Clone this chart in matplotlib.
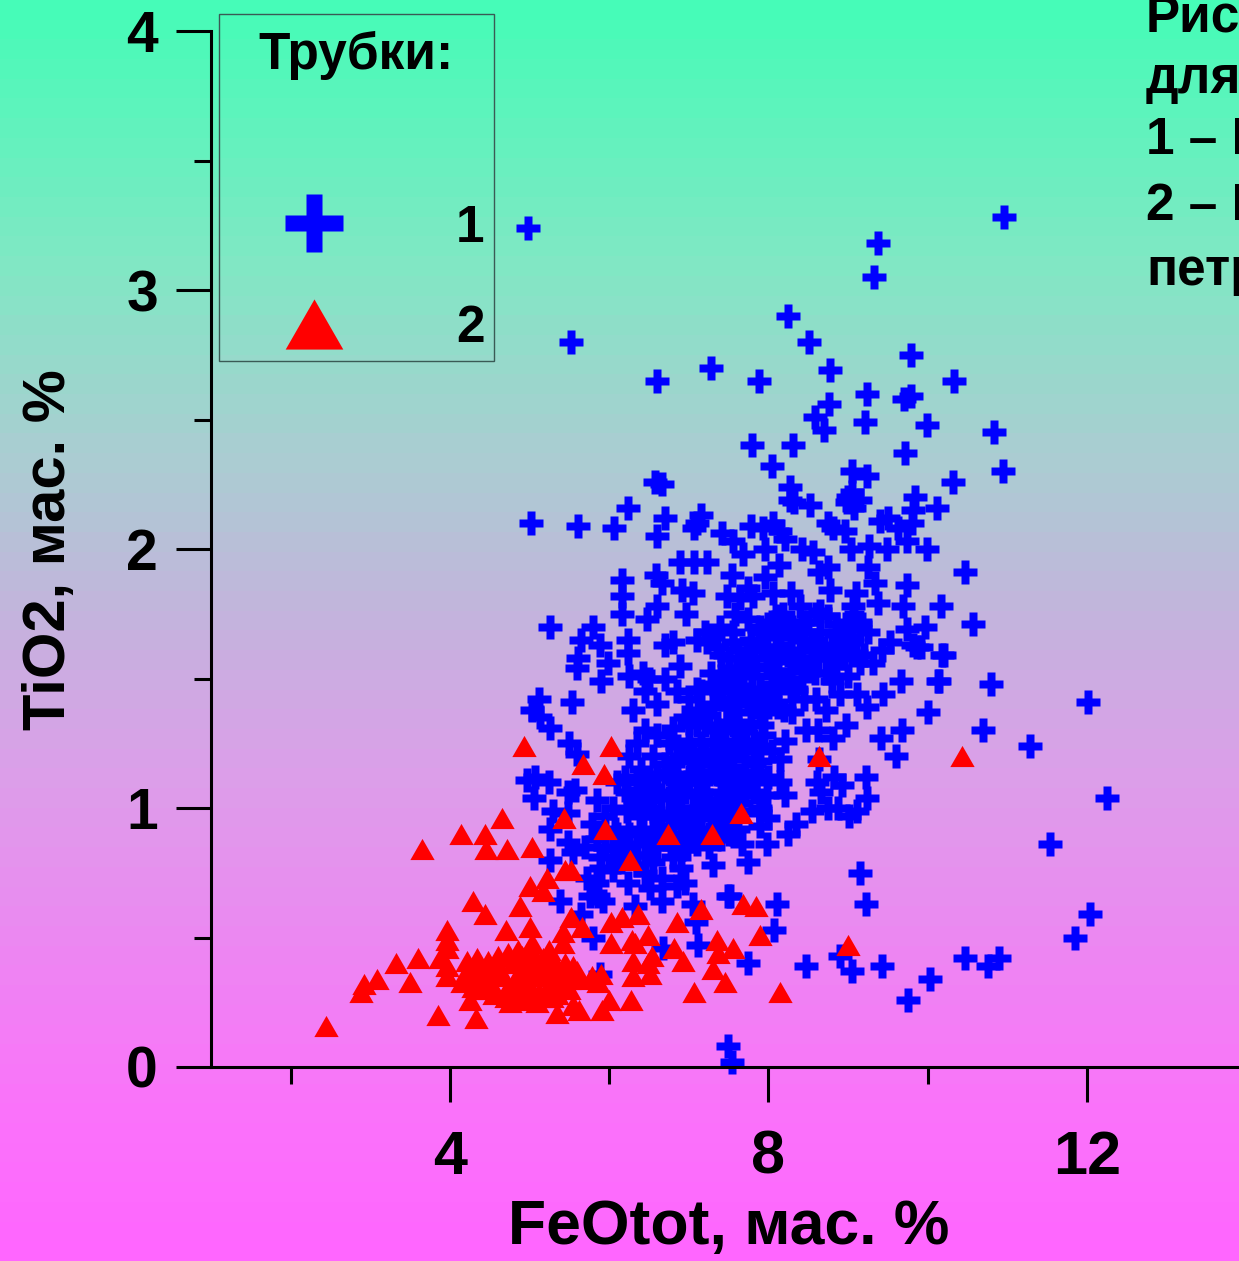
import numpy as np
import matplotlib
matplotlib.use('Agg')
import matplotlib.pyplot as plt
from matplotlib.colors import LinearSegmentedColormap
from matplotlib.lines import Line2D
from matplotlib.patches import Rectangle
from matplotlib.ticker import FixedLocator

plt.rcParams['font.family'] = ['Liberation Sans', 'DejaVu Sans']
plt.rcParams['font.weight'] = 'bold'

# Data
pipe1_x = [
    4.98, 5.52, 6.60, 7.28, 7.88, 8.25, 8.51, 8.77, 9.38, 9.33, 10.96, 9.79, 10.33, 9.24, 9.79, 9.70,
    8.76, 8.58, 8.70, 9.21, 9.99, 10.83, 7.79, 8.31, 8.04, 9.72, 9.05, 9.24, 10.95, 10.32, 6.58, 6.66,
    8.27, 8.27, 9.84, 9.05, 8.99, 8.52, 6.24, 10.12, 5.02, 5.61, 6.06,
    6.70, 6.60, 7.15, 7.10, 7.07, 7.42, 7.56, 7.68, 7.78, 7.93, 8.06, 8.15, 8.21, 7.96, 8.32,
    9.00, 9.15, 9.08, 9.82, 9.50, 9.40, 8.75, 8.81, 8.96, 9.80, 9.63, 9.74, 9.49, 9.26, 9.04, 9.99,
    8.42, 8.56, 8.75, 8.64, 9.25, 9.34, 9.74, 10.17, 9.69,
    6.89, 7.07, 7.23, 7.54, 6.59, 6.66, 6.16, 6.16, 6.16, 6.60, 6.47, 6.91, 7.05, 6.96, 7.48, 7.64,
    7.81, 7.74, 8.13, 7.96, 8.06, 8.28, 8.77, 9.10, 9.38, 9.06, 8.65, 8.40, 8.18, 7.58,
    5.26, 5.80, 5.65, 5.88, 6.24, 6.24, 5.61, 5.60, 5.98, 5.90, 6.25, 6.42, 6.89, 6.70, 6.80, 7.10,
    7.23, 7.39, 7.56, 7.73, 7.98,
    5.12, 5.03, 5.13, 5.26, 5.53, 5.49, 5.60, 4.97, 5.07, 5.24, 5.06, 5.29, 5.48, 5.78,
    9.92, 9.82, 9.97, 9.74, 9.53, 9.43, 9.31, 9.15, 8.94, 9.87, 10.18, 9.67, 10.14, 9.44, 9.24, 9.11,
    8.90, 10.00, 9.68, 9.41, 9.60, 8.97, 8.81, 8.62, 8.47, 8.64, 9.23, 8.82, 8.92, 8.61, 8.66, 9.24,
    8.55, 8.75, 8.87, 9.01, 9.11, 8.35, 8.25, 8.15, 8.21, 7.82, 8.15, 8.21, 7.89, 7.62,
    5.57, 5.85, 5.48, 5.26, 5.48, 5.70, 6.07, 6.22, 6.22, 6.58, 6.86, 6.85, 6.39, 6.51, 6.98, 6.80,
    7.30, 7.74, 7.98, 7.67, 7.98, 7.89, 7.52,
    6.24, 6.66, 6.51, 6.85, 6.95, 6.66, 6.32, 5.86, 5.76, 5.92, 5.38, 5.65, 7.05, 7.49, 7.52, 8.11,
    8.07, 7.09, 7.12, 6.68, 5.80, 7.74, 5.85, 5.72, 6.05, 5.26, 5.88, 5.55, 6.45, 5.88,
    11.29, 12.01, 12.25, 11.54, 10.80, 10.70, 10.13, 10.20, 10.57, 10.47,
    9.15, 9.23, 12.04, 11.85, 10.89, 10.76, 10.47, 10.03, 9.75, 9.43, 9.05, 8.90, 8.47, 7.49, 7.54,
    7.20, 7.35, 7.50, 7.60, 7.45, 7.70, 7.85, 7.95, 8.05, 8.15, 8.05, 8.20, 8.30, 8.40, 8.50, 8.55,
    8.65, 8.75, 8.80, 8.90, 9.00, 9.05, 9.15, 9.25, 8.35, 8.50, 8.62, 8.72, 8.85, 8.95, 9.10, 8.20,
    8.35, 8.05, 7.90, 8.45, 8.60, 8.72, 8.20, 8.05, 7.90, 7.75, 7.65, 7.55, 7.42, 7.30, 7.15, 7.00,
    6.85, 6.95, 7.10, 7.25, 7.40, 7.55, 7.70, 7.82, 7.95, 8.05, 7.65, 7.50, 7.35, 7.20, 7.05, 6.90,
    6.75, 6.60, 6.45, 6.55, 6.40, 6.70, 6.85, 7.00, 7.15, 7.30, 7.45, 7.60, 7.75, 7.35, 7.50, 7.42,
    7.55, 7.30, 7.65, 7.20, 7.05, 6.95, 7.10, 7.25, 7.40, 7.55, 6.80, 6.65, 6.50, 6.35, 6.25, 6.15,
    6.05, 5.95, 5.85, 6.30, 6.45, 6.60, 6.72, 6.85, 6.55, 6.20, 6.10, 6.35, 6.50, 6.05, 5.95, 7.90,
    8.00, 7.85, 8.00, 7.90, 6.60, 6.45, 6.30, 6.50, 6.70, 6.35, 6.25,
]
pipe1_y = [
    3.24, 2.80, 2.65, 2.70, 2.65, 2.90, 2.80, 2.69, 3.18, 3.05, 3.28, 2.75, 2.65, 2.60, 2.59, 2.58,
    2.56, 2.51, 2.46, 2.49, 2.48, 2.45, 2.40, 2.40, 2.32, 2.37, 2.30, 2.28, 2.30, 2.26, 2.26, 2.25,
    2.24, 2.19, 2.20, 2.22, 2.18, 2.17, 2.16, 2.16, 2.10, 2.09, 2.08,
    2.12, 2.05, 2.13, 2.10, 2.08, 2.06, 2.03, 1.98, 2.09, 2.08, 2.10, 2.07, 2.04, 2.00, 2.18,
    2.20, 2.19, 2.16, 2.15, 2.12, 2.11, 2.10, 2.08, 2.07, 2.10, 2.08, 2.03, 2.00, 2.01, 2.00, 2.00,
    2.00, 1.99, 1.93, 1.91, 1.93, 1.87, 1.86, 1.78, 1.78,
    1.95, 1.95, 1.95, 1.90, 1.90, 1.87, 1.88, 1.82, 1.75, 1.78, 1.73, 1.84, 1.83, 1.75, 1.82, 1.81,
    1.82, 1.85, 1.94, 1.89, 1.83, 1.83, 1.84, 1.83, 1.79, 1.78, 1.76, 1.78, 1.75, 1.75,
    1.70, 1.70, 1.65, 1.63, 1.65, 1.60, 1.58, 1.54, 1.56, 1.49, 1.51, 1.52, 1.55, 1.63, 1.64, 1.65,
    1.64, 1.70, 1.64, 1.61, 1.62,
    1.42, 1.38, 1.35, 1.31, 1.41, 1.25, 1.21, 1.11, 1.12, 1.10, 1.04, 0.99, 1.06, 0.94,
    1.62, 1.63, 1.70, 1.69, 1.64, 1.61, 1.56, 1.56, 1.60, 1.62, 1.59, 1.49, 1.49, 1.44, 1.39, 1.44,
    1.44, 1.37, 1.30, 1.27, 1.20, 1.32, 1.27, 1.30, 1.30, 1.19, 1.12, 1.12, 1.09, 1.10, 1.06, 1.04,
    0.99, 1.00, 1.00, 0.97, 0.99, 0.94, 0.90, 1.10, 1.05, 1.14, 1.19, 1.26, 0.93, 0.92,
    1.07, 1.03, 0.98, 0.92, 0.87, 0.85, 0.92, 1.06, 0.99, 1.06, 0.98, 1.07, 0.91, 0.87, 0.84, 0.81,
    0.78, 0.79, 0.86, 0.86, 1.05, 0.98, 1.07,
    0.71, 0.73, 0.69, 0.70, 0.71, 0.64, 0.62, 0.66, 0.66, 0.64, 0.64, 0.59, 0.63, 0.66, 0.66, 0.63,
    0.53, 0.56, 0.47, 0.46, 0.50, 0.40, 0.71, 0.73, 0.76, 0.80, 0.81, 0.83, 0.75, 0.36,
    1.24, 1.41, 1.04, 0.86, 1.48, 1.30, 1.49, 1.59, 1.71, 1.91,
    0.75, 0.63, 0.59, 0.50, 0.42, 0.39, 0.42, 0.34, 0.26, 0.39, 0.37, 0.43, 0.39, 0.08, 0.02,
    1.68, 1.62, 1.58, 1.52, 1.50, 1.56, 1.55, 1.68, 1.72, 1.66, 1.58, 1.60, 1.70, 1.65, 1.72, 1.62,
    1.68, 1.74, 1.62, 1.68, 1.72, 1.64, 1.72, 1.68, 1.56, 1.55, 1.58, 1.52, 1.55, 1.58, 1.60, 1.50,
    1.46, 1.48, 1.45, 1.42, 1.42, 1.38, 1.38, 1.40, 1.36, 1.42, 1.44, 1.40, 1.42, 1.48, 1.45, 1.42,
    1.45, 1.35, 1.32, 1.36, 1.30, 1.32, 1.30, 1.26, 1.28, 1.22, 1.22, 1.20, 1.22, 1.20, 1.22, 1.20,
    1.25, 1.28, 1.30, 1.20, 1.15, 1.14, 1.10, 1.12, 1.10, 1.14, 1.10, 1.12, 1.08, 1.02, 1.00, 0.95,
    0.98, 0.96, 1.02, 1.03, 1.00, 0.95, 0.92, 0.90, 0.88, 0.90, 0.93, 0.96, 1.00, 1.02, 0.90, 0.87,
    0.84, 0.85, 0.88, 0.82, 0.82, 0.85, 0.88, 0.86, 0.90, 1.12, 1.10, 1.10, 1.08, 1.00, 0.97, 1.00,
    0.96, 1.10, 1.12, 1.18, 1.40, 1.45, 1.38, 1.50, 1.50, 1.25, 1.20,
]

# Points of pipe 1 inside the dense core
core1_x = [
    7.75, 7.90, 8.10, 8.25, 8.42, 8.60, 8.85, 9.08,
    7.30, 7.55, 7.78, 7.88, 8.10, 8.28, 8.45, 8.60, 8.85, 8.98, 9.15,
    7.40, 7.62, 7.82, 7.92, 8.12, 8.28, 8.42, 8.60, 8.78, 9.00, 9.20,
    7.28, 7.50, 7.68, 7.80, 7.98, 8.12, 8.28, 8.42, 8.58, 8.80, 9.00,
    7.10, 7.35, 7.52, 7.68, 7.80, 7.98, 8.12, 8.28,
    7.12, 7.30, 7.48, 7.62, 7.80, 7.95, 8.12, 8.30,
    6.80, 7.00, 7.20, 7.35, 7.48, 7.62, 7.78, 7.92,
    6.85, 7.00, 7.15, 7.30, 7.45, 7.58, 7.72, 7.88,
    6.70, 6.85, 7.02, 7.15, 7.28, 7.42, 7.55, 7.70, 7.82,
    6.42, 6.60, 6.78, 6.92, 7.08, 7.22, 7.38, 7.52, 7.68,
    6.30, 6.45, 6.65, 6.80, 6.95, 7.10, 7.25, 7.40, 7.55, 7.70, 7.82,
    6.40, 6.55, 6.75, 6.90, 7.00, 7.15, 7.28, 7.45, 7.60,
    6.10, 6.42, 6.60, 6.90, 7.02, 7.15, 7.35, 7.50,
    6.18, 6.35, 6.78, 6.92, 7.10, 7.25,
    5.90, 6.10, 6.35, 6.55, 6.90,
]
core1_y = [
    1.73, 1.70, 1.74, 1.71, 1.72, 1.75, 1.71, 1.74,
    1.66, 1.68, 1.65, 1.69, 1.67, 1.66, 1.68, 1.65, 1.67, 1.66, 1.69,
    1.59, 1.61, 1.58, 1.62, 1.60, 1.59, 1.61, 1.58, 1.60, 1.62, 1.59,
    1.52, 1.54, 1.53, 1.51, 1.54, 1.52, 1.53, 1.50, 1.52, 1.49, 1.51,
    1.46, 1.47, 1.45, 1.47, 1.46, 1.44, 1.47, 1.45,
    1.38, 1.40, 1.39, 1.37, 1.40, 1.38, 1.39, 1.37,
    1.31, 1.33, 1.32, 1.30, 1.33, 1.31, 1.33, 1.32,
    1.24, 1.26, 1.25, 1.26, 1.24, 1.26, 1.25, 1.24,
    1.17, 1.19, 1.18, 1.17, 1.19, 1.18, 1.16, 1.19, 1.17,
    1.11, 1.13, 1.12, 1.10, 1.13, 1.11, 1.13, 1.12, 1.11,
    1.04, 1.06, 1.05, 1.04, 1.06, 1.05, 1.03, 1.06, 1.04, 1.05, 1.06,
    0.97, 0.99, 0.98, 0.99, 0.97, 0.98, 0.99, 0.97, 0.99,
    0.90, 0.92, 0.91, 0.90, 0.92, 0.91, 0.92, 0.90,
    0.84, 0.86, 0.85, 0.84, 0.86, 0.85,
    0.77, 0.79, 0.78, 0.79, 0.77,
]

pipe2_x = [
    4.93, 6.02, 5.67, 5.93, 4.65, 4.14, 4.44, 4.45, 4.72, 5.03, 3.65, 5.43, 5.95, 6.74, 6.26, 5.44,
    5.52, 5.22, 5.01, 5.17, 4.29, 4.44, 4.88, 5.52, 5.66, 6.02, 6.16, 6.36, 6.85, 5.42, 5.42, 6.02,
    6.29, 6.49, 6.32, 4.70, 5.00, 5.03, 3.96, 3.97, 3.97, 6.81, 6.54, 6.93, 6.30, 6.49, 6.51, 6.30,
    3.60, 3.87, 3.32, 3.96, 3.08, 2.92, 2.88, 3.50, 3.96, 2.45, 3.85, 4.33, 5.34, 5.62, 5.91, 5.55,
    6.00, 6.27, 7.07,
    4.21, 4.34, 4.48, 4.59, 4.73, 4.85, 4.79, 5.04, 5.17, 5.32, 5.44, 5.55, 4.21, 4.34, 4.46, 4.67,
    4.84, 5.04, 5.22, 5.42, 5.78, 5.90, 5.86, 4.29, 4.72, 4.84, 5.01, 5.23, 5.42, 4.25, 4.75, 4.88,
    5.22, 5.34, 4.41, 5.63, 4.59,
    10.43, 8.64, 7.66, 7.29, 7.15, 7.68, 7.84, 7.89, 9.00, 8.15, 7.35, 7.37, 7.55, 7.30, 7.45,
    4.50, 4.62, 4.90, 4.95, 5.10, 5.12, 5.30, 5.35, 4.55, 4.70, 4.95, 5.10, 5.28, 4.60, 4.90, 5.00,
    5.25, 5.50, 5.60, 4.15, 4.38, 4.42, 4.80, 4.95, 5.15, 5.50,
]
pipe2_y = [
    1.24, 1.24, 1.17, 1.13, 0.96, 0.90, 0.90, 0.84, 0.84, 0.85, 0.84, 0.96, 0.92, 0.90, 0.80, 0.76,
    0.76, 0.73, 0.70, 0.68, 0.64, 0.59, 0.62, 0.58, 0.54, 0.56, 0.58, 0.59, 0.56, 0.52, 0.48, 0.48,
    0.49, 0.51, 0.48, 0.53, 0.54, 0.48, 0.53, 0.49, 0.46, 0.46, 0.43, 0.41, 0.41, 0.40, 0.36, 0.35,
    0.42, 0.42, 0.40, 0.39, 0.34, 0.32, 0.29, 0.33, 0.35, 0.16, 0.20, 0.19, 0.21, 0.22, 0.22, 0.24,
    0.26, 0.26, 0.29,
    0.41, 0.42, 0.41, 0.40, 0.44, 0.45, 0.40, 0.41, 0.42, 0.40, 0.40, 0.39, 0.37, 0.36, 0.37, 0.35,
    0.35, 0.37, 0.36, 0.36, 0.35, 0.36, 0.33, 0.31, 0.30, 0.30, 0.31, 0.31, 0.31, 0.26, 0.25, 0.26,
    0.27, 0.28, 0.30, 0.34, 0.39,
    1.20, 1.20, 0.98, 0.90, 0.61, 0.63, 0.62, 0.51, 0.47, 0.29, 0.49, 0.44, 0.46, 0.38, 0.33,
    0.33, 0.36, 0.38, 0.33, 0.35, 0.29, 0.34, 0.38, 0.28, 0.27, 0.27, 0.25, 0.27, 0.43, 0.43, 0.46,
    0.45, 0.34, 0.37, 0.33, 0.30, 0.37, 0.31, 0.41, 0.40, 0.30,
]

x_major = [4, 8, 12]
x_minor = [2, 6, 10]
y_major = [0, 1, 2, 3, 4]
y_minor = [0.5, 1.5, 2.5, 3.5]

side_lines = ['Рис.', 'для', '1 – Н', '2 – Н', 'петр']

# Markers
plus_mark = [(-1, -0.33), (-0.33, -0.33), (-0.33, -1), (0.33, -1), (0.33, -0.33), (1, -0.33),
             (1, 0.33), (0.33, 0.33), (0.33, 1), (-0.33, 1), (-0.33, 0.33), (-1, 0.33)]
legend_plus = [(-1, -0.27), (-0.27, -0.27), (-0.27, -1), (0.27, -1), (0.27, -0.27), (1, -0.27),
               (1, 0.27), (0.27, 0.27), (0.27, 1), (-0.27, 1), (-0.27, 0.27), (-1, 0.27)]
tri_mark = [(0, 0.87), (-1, -0.87), (1, -0.87)]

W, H = 1239, 1261
fig = plt.figure(figsize=(W / 100, H / 100), dpi=100)

# Background gradient
bg = fig.add_axes([0, 0, 1, 1], zorder=-1)
cmap = LinearSegmentedColormap.from_list('bg', [
    (0.0, '#46fcb8'), (0.2, '#80e8c4'), (0.36, '#abcdd2'), (0.5, '#c6b2de'),
    (0.62, '#dd9eea'), (0.75, '#ec88f2'), (0.88, '#fa74fa'), (1.0, '#ff66ff')])
bg.imshow(np.linspace(0, 1, 64).reshape(-1, 1), aspect='auto', cmap=cmap)
bg.axis('off')

# Plotting
ax = fig.add_axes([211 / W, 1 - 1067 / H, 1 - 211 / W, (1067 - 31) / H])
ax.patch.set_alpha(0)
ax.set_xlim(1.0, 13.91)
ax.set_ylim(0, 4)
ax.plot(pipe1_x + core1_x, pipe1_y + core1_y, ls='none', marker=plus_mark, ms=17.5,
        mfc='#0000ff', mec='none', clip_on=False)
ax.plot(pipe2_x, pipe2_y, ls='none', marker=tri_mark, ms=17.5, mfc='#ff0000', mec='none', clip_on=False)

for side in ['top', 'right']:
    ax.spines[side].set_visible(False)
for side in ['left', 'bottom']:
    ax.spines[side].set_linewidth(2.2)

ax.xaxis.set_major_locator(FixedLocator(x_major))
ax.xaxis.set_minor_locator(FixedLocator(x_minor))
ax.yaxis.set_major_locator(FixedLocator(y_major))
ax.yaxis.set_minor_locator(FixedLocator(y_minor))
ax.tick_params(which='major', length=25.2, width=2.2)
ax.tick_params(which='minor', length=12.2, width=2.2)
ax.tick_params(axis='x', which='major', labelsize=44, pad=20)
ax.tick_params(axis='y', which='major', labelsize=41, pad=13)

fig.text(729 / W, 1 - 1227 / H, 'FeOtot, мас. %', fontsize=45, ha='center', va='center')
fig.text(50 / W, 1 - 550 / H, 'TiO2, мас. %', fontsize=43, ha='center', va='center', rotation=90)

# Legend box
fig.add_artist(Rectangle((219 / W, 1 - 361 / H), 275 / W, 347 / H, transform=fig.transFigure,
                         fill=False, ec='#3a5a55', lw=1))
fig.text(356 / W, 1 - 55 / H, 'Трубки:', fontsize=37, ha='center', va='center')
fig.add_artist(Line2D([314 / W], [1 - 223 / H], transform=fig.transFigure, ls='none', marker=legend_plus,
                      ms=42, mfc='#0000ff', mec='none'))
fig.add_artist(Line2D([314 / W], [1 - 324 / H], transform=fig.transFigure, ls='none', marker=tri_mark,
                      ms=41.5, mfc='#ff0000', mec='none'))
fig.text(484 / W, 1 - 228 / H, '1', fontsize=37, ha='right', va='center')
fig.text(485 / W, 1 - 329 / H, '2', fontsize=37, ha='right', va='center')

# Caption cut by the picture edge
for i, line in enumerate(side_lines):
    fig.text(1146 / W, 1 - [18, 80, 141, 206, 271][i] / H, line, fontsize=37, ha='left', va='center')

fig.savefig('out.png', dpi=100)
